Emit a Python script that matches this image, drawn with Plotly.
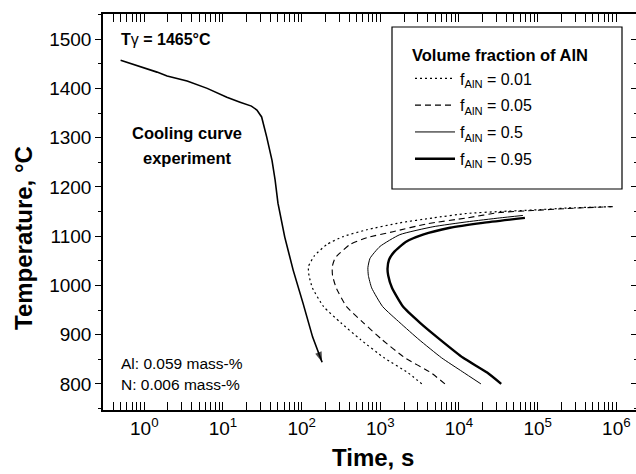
import plotly.graph_objects as go

# ---------------- data ----------------
cool_t = [0.50, 0.72, 0.97, 1.45, 1.95, 3.5, 6.3, 11.2, 16.5, 23, 27, 31, 36, 42, 46, 50, 61, 78, 104, 138, 182]
cool_T = [1457, 1449, 1441, 1433, 1425, 1415, 1400, 1382, 1372, 1364, 1356, 1342, 1301, 1254, 1214, 1167, 1098, 1031, 964, 895, 844]

f001_t = [3370, 2230, 1117, 560, 315, 190, 137, 124, 122, 145, 209, 335, 676, 1770, 4660, 12600, 33000, 87000, 235000, 900000]
f001_T = [800, 823, 853, 890, 924, 957, 995, 1020, 1038, 1060, 1083, 1099, 1113, 1127, 1137, 1146, 1150, 1153, 1157, 1160]

f005_t = [6620, 4375, 2050, 1050, 610, 372, 275, 247, 245, 265, 289, 411, 676, 1450, 3910, 12600, 33000, 87000, 235000, 900000]
f005_T = [800, 823, 853, 890, 924, 957, 995, 1020, 1038, 1055, 1062, 1083, 1097, 1109, 1125, 1137, 1148, 1152, 1156, 1160]

f05_t = [19000, 11000, 6000, 3100, 1780, 1070, 776, 705, 695, 740, 989, 1770, 4660, 12600, 33000, 64900]
f05_T = [800, 825, 853, 890, 924, 957, 995, 1020, 1036, 1055, 1079, 1103, 1119, 1129, 1137, 1142]

f095_t = [34400, 22800, 11300, 5750, 3200, 1940, 1406, 1260, 1235, 1290, 1500, 2100, 3480, 7670, 20100, 68900]
f095_T = [800, 823, 853, 890, 924, 957, 995, 1020, 1034, 1052, 1068, 1088, 1103, 1117, 1127, 1137]

series_names = ["f<sub>AlN</sub> = 0.01", "f<sub>AlN</sub> = 0.05", "f<sub>AlN</sub> = 0.5", "f<sub>AlN</sub> = 0.95"]

x_tickvals = [1, 10, 100, 1000, 10000, 100000, 1000000]
x_ticktext = ["10<sup>0</sup>", "10<sup>1</sup>", "10<sup>2</sup>", "10<sup>3</sup>",
              "10<sup>4</sup>", "10<sup>5</sup>", "10<sup>6</sup>"]
x_minor = [m * 10 ** k for k in range(-1, 7) for m in range(2, 10)]

FONT = "Liberation Sans, Arial, sans-serif"

fig = go.Figure()

styles = [dict(width=1.2, dash="2px,3px"),
          dict(width=1.1, dash="6px,4px"),
          dict(width=1.0),
          dict(width=2.4)]
for i, (name, t, T, st) in enumerate(zip(series_names, [f001_t, f005_t, f05_t, f095_t],
                                         [f001_T, f005_T, f05_T, f095_T], styles)):
    fig.add_trace(go.Scatter(x=t, y=T, mode="lines", name=name, legendgroup=f"g{i}",
                             line=dict(color="black", shape="spline", smoothing=0.5, **st)))

sizes = [0] * (len(cool_t) - 1) + [11]
fig.add_trace(go.Scatter(x=cool_t, y=cool_T, mode="lines+markers", showlegend=False,
                         line=dict(color="black", width=1.6),
                         marker=dict(symbol="arrow", size=sizes, angleref="previous",
                                     color="black", line=dict(width=0))))
# invisible trace for right-side tick axis
fig.add_trace(go.Scatter(x=[1], y=[1000], yaxis="y2", mode="markers",
                         marker=dict(opacity=0), showlegend=False, hoverinfo="skip"))

W, H = 636, 474
L, R, T_, B = 103, 0, 14, 64
pw, ph = W - L - R, H - T_ - B

def px(x):
    return (x - L) / pw

def py(y):
    return (H - B - y) / ph

fig.update_layout(
    width=W, height=H,
    margin=dict(l=L, r=R, t=T_, b=B, pad=0),
    paper_bgcolor="white", plot_bgcolor="white",
    font=dict(family=FONT, color="black", size=18),
    xaxis=dict(type="log", range=[-0.525, 6.25], tickmode="array",
               tickvals=x_tickvals, ticktext=x_ticktext,
               ticks="inside", ticklen=8, tickwidth=1.2, tickcolor="black",
               showline=True, linecolor="black", linewidth=1.5, mirror="allticks",
               showgrid=False, zeroline=False, tickfont=dict(size=19),
               minor=dict(tickmode="array", tickvals=x_minor, ticks="inside",
                          ticklen=4, tickwidth=1, tickcolor="black", showgrid=False)),
    yaxis=dict(range=[747, 1551], tick0=0, dtick=100, ticks="outside", ticklen=6,
               tickwidth=1.2, tickcolor="black", showline=True, linecolor="black",
               linewidth=1.5, showgrid=False, zeroline=False, tickfont=dict(size=19),
               minor=dict(dtick=50, ticks="outside", ticklen=3, tickwidth=1,
                          tickcolor="black", showgrid=False)),
    yaxis2=dict(range=[747, 1551], overlaying="y", side="right", tick0=0, dtick=100,
                ticks="inside", ticklen=5, tickwidth=1.2, tickcolor="black",
                showline=False, showgrid=False, zeroline=False, showticklabels=False,
                minor=dict(dtick=50, ticks="inside", ticklen=2, tickwidth=1,
                           tickcolor="black", showgrid=False)),
    showlegend=True,
    legend=dict(x=px(410), y=py(40), xanchor="left", yanchor="top",
                bgcolor="rgba(0,0,0,0)", borderwidth=0,
                font=dict(size=16, family=FONT),
                title=dict(text="<b>Volume fraction of AlN</b>", font=dict(size=16.5, family=FONT)),
                itemwidth=40, tracegroupgap=3),
    shapes=[dict(type="rect", xref="paper", yref="paper",
                 x0=px(392), x1=px(622), y0=py(189), y1=py(27),
                 line=dict(color="black", width=1.2), fillcolor="rgba(0,0,0,0)")],
)

ann = [
    dict(text="<b>T</b>γ<b> = 1465°C</b>", x=px(119), y=py(40), xanchor="left", yanchor="middle", size=16),
    dict(text="<b>Cooling curve</b>", x=px(187), y=py(133), xanchor="center", yanchor="middle", size=16.5),
    dict(text="<b>experiment</b>", x=px(187), y=py(158), xanchor="center", yanchor="middle", size=16.5),
    dict(text="Al: 0.059 mass-%", x=px(119), y=py(363), xanchor="left", yanchor="middle", size=15.5),
    dict(text="N: 0.006 mass-%", x=px(119), y=py(384), xanchor="left", yanchor="middle", size=15.5),
    dict(text="<b>Time, s</b>", x=px(373), y=py(458), xanchor="center", yanchor="middle", size=24),
]
for a in ann:
    fig.add_annotation(text=a["text"], x=a["x"], y=a["y"], xref="paper", yref="paper",
                       xanchor=a["xanchor"], yanchor=a["yanchor"], showarrow=False,
                       font=dict(size=a["size"], family=FONT, color="black"))
fig.add_annotation(text="<b>Temperature, °C</b>", x=px(23), y=py(238), xref="paper", yref="paper",
                   textangle=-90, showarrow=False, xanchor="center", yanchor="middle",
                   font=dict(size=24, family=FONT, color="black"))

fig.write_html("out.html")
